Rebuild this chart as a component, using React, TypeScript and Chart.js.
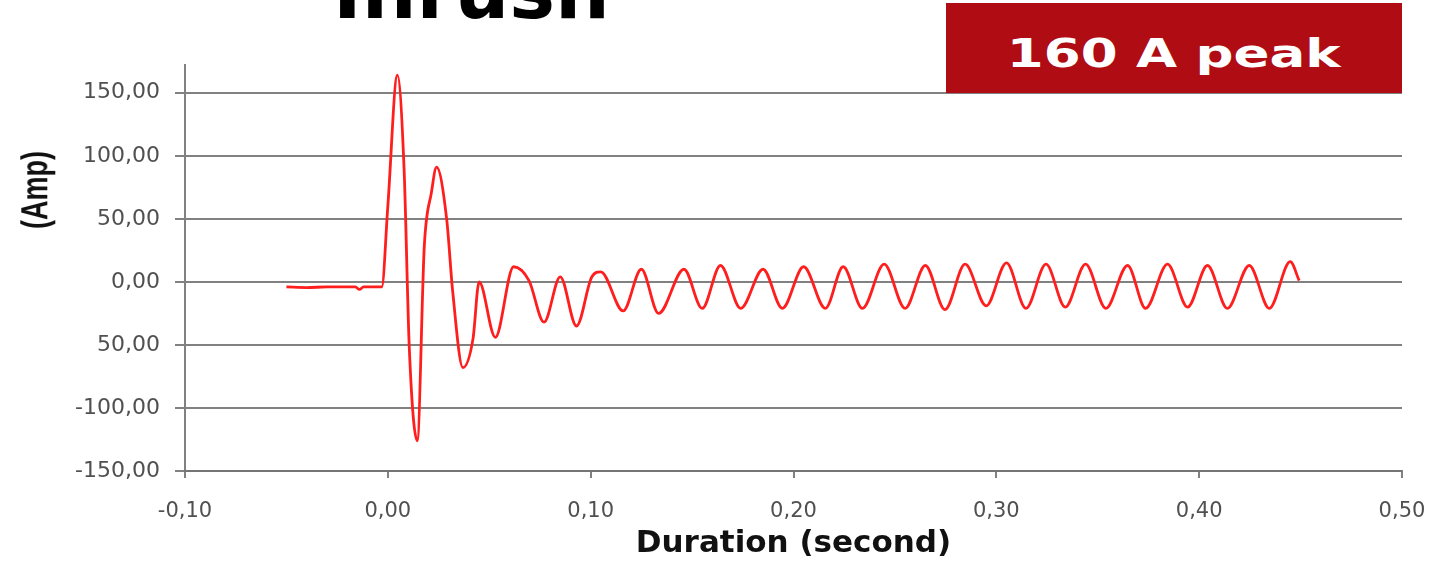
import React, { useEffect, useRef } from "react";
import { Chart, registerables } from "chart.js";

Chart.register(...registerables);

// ---- Data ----
const timeSeconds = [
  -0.05, -0.04, -0.03, -0.016, -0.014, -0.012, -0.003,
  0.0, 0.0047, 0.008, 0.0106, 0.0145, 0.018, 0.0215, 0.024, 0.029, 0.032, 0.037,
  0.042, 0.045, 0.053, 0.062, 0.0696, 0.077, 0.085, 0.093, 0.1006, 0.105,
  0.116, 0.125, 0.1335, 0.146, 0.155, 0.164, 0.174, 0.185, 0.1945, 0.205,
  0.2157, 0.2245, 0.234, 0.2447, 0.255, 0.265, 0.2747, 0.2846, 0.295, 0.305,
  0.3146, 0.3245, 0.334, 0.344, 0.354, 0.3647, 0.3736, 0.3844, 0.3943, 0.4041,
  0.4139, 0.4247, 0.4346, 0.4449, 0.4493,
];
const currentAmps = [
  -4, -4.5, -4, -4, -6, -4, -4,
  60, 164, 90, -53, -126, 29, 71, 91, 50, -8, -68,
  -45, 0, -44, 12, 1, -32, 4, -35, 4, 8,
  -23, 10, -25, 10, -21, 13, -21, 10, -21, 12,
  -21, 12, -21, 14, -21, 13, -22, 14, -19, 15,
  -21, 14, -20, 14, -21, 13, -21, 14, -20, 13,
  -21, 13, -21, 16, 1,
];

const xTickValues = [-0.1, 0, 0.1, 0.2, 0.3, 0.4, 0.5];
const xTickLabels = ["-0,10", "0,00", "0,10", "0,20", "0,30", "0,40", "0,50"];
const yTickValues = [150, 100, 50, 0, -50, -100, -150];
const yTickLabels = ["150,00", "100,00", "50,00", "0,00", "50,00", "-100,00", "-150,00"];

const titleText = "Inrush";
const peakText = "160 A peak";
const yAxisTitle = "(Amp)";
const xAxisTitle = "Duration (second)";

const GRID = "rgba(115,115,115,0.9)";

export default function App() {
  const canvasRef = useRef<HTMLCanvasElement | null>(null);

  useEffect(() => {
    const canvas = canvasRef.current;
    if (!canvas) return;
    const chart = new Chart(canvas, {
      type: "line",
      data: {
        datasets: [
          {
            data: timeSeconds.map((t, i) => ({ x: t, y: currentAmps[i] })),
            borderColor: "#ff1e1e",
            borderWidth: 2.8,
            pointRadius: 0,
            cubicInterpolationMode: "monotone",
            fill: false,
          },
        ],
      },
      options: {
        responsive: false,
        maintainAspectRatio: false,
        animation: false,
        devicePixelRatio: 1,
        layout: { padding: { top: 65, right: 35, left: 0, bottom: 0 } },
        plugins: {
          legend: { display: false },
          tooltip: { enabled: false },
          title: { display: false },
        },
        scales: {
          x: {
            type: "linear",
            min: -0.1,
            max: 0.5,
            afterBuildTicks: (scale: any) => {
              scale.ticks = xTickValues.map((v) => ({ value: v }));
            },
            afterFit: (scale: any) => {
              scale.height = 92;
              scale.paddingLeft = 0;
              scale.paddingRight = 0;
            },
            grid: {
              drawOnChartArea: false,
              drawTicks: true,
              tickLength: 7,
              color: GRID,
              tickColor: GRID,
              lineWidth: 2,
            },
            border: { display: true, color: GRID, width: 2 },
            ticks: {
              autoSkip: false,
              maxRotation: 0,
              minRotation: 0,
              padding: 21,
              color: "#505050",
              font: { family: "DejaVu Sans", size: 21 },
              callback: (value: any) => {
                const i = xTickValues.findIndex((v) => Math.abs(v - Number(value)) < 1e-9);
                return i >= 0 ? xTickLabels[i] : "";
              },
            },
            title: {
              display: true,
              text: xAxisTitle,
              color: "#111",
              font: { family: "DejaVu Sans", size: 31, weight: "bold" },
              padding: { top: 0, bottom: 0 },
            },
          },
          y: {
            type: "linear",
            min: -150,
            max: 172,
            afterBuildTicks: (scale: any) => {
              scale.ticks = yTickValues.map((v) => ({ value: v }));
            },
            afterFit: (scale: any) => {
              scale.width = 185;
              scale.paddingTop = 0;
              scale.paddingBottom = 0;
            },
            grid: {
              drawOnChartArea: true,
              drawTicks: true,
              tickLength: 10,
              color: GRID,
              tickColor: GRID,
              lineWidth: 2,
            },
            border: { display: true, color: GRID, width: 2 },
            ticks: {
              padding: 15,
              color: "#505050",
              font: { family: "DejaVu Sans", size: 22 },
              callback: (value: any) => {
                const i = yTickValues.indexOf(Number(value));
                return i >= 0 ? yTickLabels[i] : "";
              },
            },
          },
        },
      },
    } as any);
    return () => chart.destroy();
  }, []);

  return (
    <div
      style={{
        position: "fixed",
        left: 0,
        top: 0,
        width: 1437,
        height: 563,
        background: "#fff",
        overflow: "hidden",
      }}
    >
      <canvas
        ref={canvasRef}
        width={1437}
        height={563}
        style={{ position: "absolute", left: 0, top: 0, width: 1437, height: 563 }}
      />
      <div
        style={{
          position: "absolute",
          left: 333,
          top: -47,
          fontFamily: "DejaVu Sans",
          fontWeight: "bold",
          fontSize: 77,
          lineHeight: "77px",
          color: "#000",
          whiteSpace: "nowrap",
        }}
      >
        {titleText}
      </div>
      <div
        style={{
          position: "absolute",
          left: 946,
          top: 3,
          width: 456,
          height: 90,
          background: "#b00c13",
        }}
      >
        <div
          style={{
            position: "absolute",
            left: 0,
            top: 31,
            width: "100%",
            textAlign: "center",
            lineHeight: "39px",
            fontSize: 39,
            fontFamily: "DejaVu Sans",
            fontWeight: "bold",
            color: "#fff",
            whiteSpace: "nowrap",
          }}
        >
          <span style={{ display: "inline-block", transform: "scaleX(1.36)" }}>{peakText}</span>
        </div>
      </div>
      <div
        style={{
          position: "absolute",
          left: 35,
          top: 190,
          transform: "translate(-50%, -50%) rotate(-90deg) scaleY(1.4)",
          fontFamily: "Liberation Sans",
          fontWeight: "bold",
          fontSize: 27,
          lineHeight: "27px",
          color: "#111",
          whiteSpace: "nowrap",
        }}
      >
        {yAxisTitle}
      </div>
    </div>
  );
}
